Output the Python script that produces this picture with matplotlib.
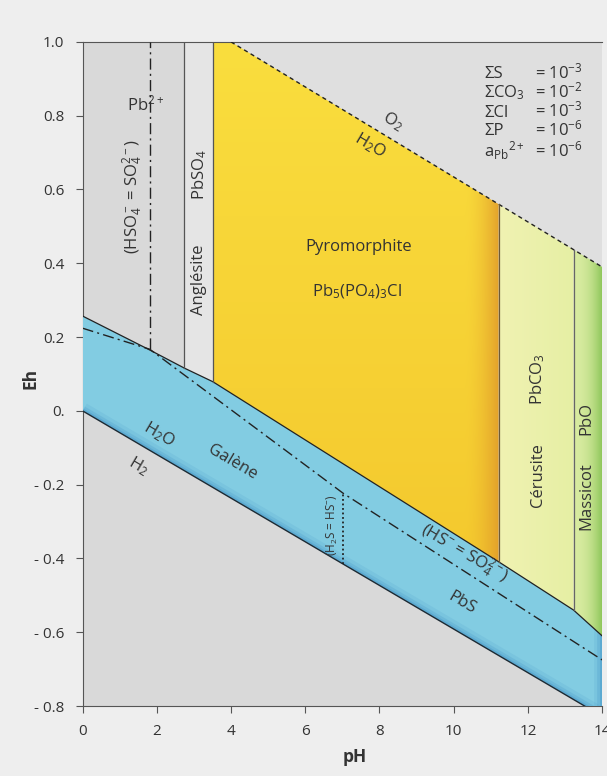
import numpy as np
import matplotlib
matplotlib.use('Agg')
import matplotlib.pyplot as plt
from matplotlib.patches import Polygon
from matplotlib.colors import to_rgb

plt.rcParams['font.family'] = ['Open Sans', 'DejaVu Sans']
plt.rcParams['mathtext.fontset'] = 'custom'
plt.rcParams['mathtext.rm'] = 'Open Sans'
plt.rcParams['mathtext.it'] = 'Open Sans:italic'
plt.rcParams['mathtext.bf'] = 'Open Sans:bold'

# ---------------- data ----------------
upper_ph = [0.0, 1.81, 2.74, 3.51, 11.21, 13.23, 14.0]       # upper limit of PbS (galena)
upper_eh = [0.257, 0.165, 0.116, 0.079, -0.409, -0.540, -0.610]
o2_ph = [4.0, 14.0]                                           # O2 / H2O
o2_eh = [1.0, 0.39]
h2_ph = [0.0, 14.0]                                           # H2O / H2
h2_eh = [0.0, -0.828]
sulf_ph = [0.0, 1.81, 7.03, 14.0]                             # sulfide / sulfate
sulf_eh = [0.224, 0.167, -0.224, -0.675]
hso4_ph = 1.81                                                # HSO4- = SO4 2-
h2s_ph = 7.03                                                 # H2S = HS-
bounds_ph = [2.74, 3.51, 11.21, 13.23]                        # Pb2+|Anglesite|Pyromorphite|Cerusite|Massicot
xticks = [0, 2, 4, 6, 8, 10, 12, 14]
yticks = [1.0, 0.8, 0.6, 0.4, 0.2, 0.0, -0.2, -0.4, -0.6, -0.8]
yticklabels = ['1.0', '0.8', '0.6', '0.4', '0.2', '0.', '- 0.2', '- 0.4', '- 0.6', '- 0.8']

legend_names = [r'ΣS', r'ΣCO$_3$', r'ΣCl', r'ΣP', r'a$_{\mathrm{Pb}}{}^{2+}$']
legend_values = [r'= 10$^{-3}$', r'= 10$^{-2}$', r'= 10$^{-3}$', r'= 10$^{-6}$', r'= 10$^{-6}$']


def up(p):
    return float(np.interp(p, upper_ph, upper_eh))


def top(p):
    return float(np.interp(p, o2_ph, o2_eh))


fig = plt.figure(figsize=(6.07, 7.76), dpi=100, facecolor='#eeeeee')
ax = fig.add_axes([0.136, 0.0902, 0.856, 0.8558])
ax.set_facecolor('#d9d9d9')
ax.set_xlim(0, 14)
ax.set_ylim(-0.8, 1.0)


def grad_fill(poly_pts, extent, func, z):
    patch = Polygon(poly_pts, closed=True, transform=ax.transData,
                    facecolor='none', edgecolor='none')
    ax.add_patch(patch)
    nx, ny = 240, 240
    t = np.linspace(0, 1, nx)[None, :]
    s = np.linspace(0, 1, ny)[:, None]
    img = func(t * np.ones((ny, 1)), s * np.ones((1, nx)))
    im = ax.imshow(img, extent=extent, origin='lower', aspect='auto',
                   zorder=z, interpolation='bilinear')
    im.set_clip_path(patch)
    return patch


def lerp(c1, c2, w):
    c1 = np.array(to_rgb(c1))
    c2 = np.array(to_rgb(c2))
    w = np.clip(w, 0, 1)[..., None]
    return c1 * (1 - w) + c2 * w


b1, b2, b3, b4 = bounds_ph

# region above O2 line (lighter grey)
ax.fill([o2_ph[0], 14, 14], [1.0, o2_eh[1], 1.0], color='#dfdfdf', zorder=1, lw=0)

# Anglesite strip
ax.fill([b1, b2, b2, b1], [up(b1), up(b2), 1.0, 1.0], color='#e5e5e5', zorder=1, lw=0)

# Pyromorphite (yellow gradient)
pyro = [(b2, up(b2)), (b3, up(b3)), (b3, top(b3)), (o2_ph[0], 1.0), (b2, 1.0)]


def yellow(t, s):
    c = lerp('#f4c92e', '#fade3e', s)
    w = np.clip((t - 0.88) / 0.12, 0, 1) ** 1.8
    c = c * (1 - w[..., None] * 0.85) + np.array(to_rgb('#e09a2a')) * (w[..., None] * 0.85)
    return c


grad_fill(pyro, [b2, b3, up(b3), 1.0], yellow, 2)

# Cerusite
ceru = [(b3, up(b3)), (b4, up(b4)), (b4, top(b4)), (b3, top(b3))]
grad_fill(ceru, [b3, b4, up(b4), top(b3)],
          lambda t, s: lerp('#f0f2b2', '#e6efa4', t), 2)

# Massicot
mass = [(b4, up(b4)), (14, up(14)), (14, top(14)), (b4, top(b4))]
grad_fill(mass, [b4, 14, up(14), top(b4)],
          lambda t, s: lerp('#d8eba0', '#88c455', t ** 2.2), 2)

# Galena (blue) with soft darker rim
blue_pts = list(zip(upper_ph, upper_eh)) + list(zip(h2_ph[::-1], h2_eh[::-1]))
blue = Polygon(blue_pts, closed=True, facecolor='#82cce2', edgecolor='none', zorder=3)
ax.add_patch(blue)
for lw, a in [(12, 0.12), (7, 0.2), (3.5, 0.3)]:
    sh, = ax.plot(h2_ph, h2_eh, color='#3a8cc4', lw=lw, alpha=a, zorder=3.5,
                  solid_capstyle='butt')
    sh.set_clip_path(blue)
    sh2, = ax.plot([14, 14], [-0.85, up(14)], color='#3a8cc4', lw=lw, alpha=a,
                   zorder=3.5)
    sh2.set_clip_path(blue)

# boundary lines
ax.plot(upper_ph, upper_eh, color='#222222', lw=0.9, zorder=5)
ax.plot(h2_ph, h2_eh, color='#1d2a33', lw=1.0, zorder=5)
ax.plot(o2_ph, o2_eh, color='#222222', lw=1.0, dashes=(3, 2.5), zorder=5)
for p, c in zip(bounds_ph, ['#555555', '#555555', '#6e5a36', '#666666']):
    ax.plot([p, p], [up(p), min(1.0, top(p))], color=c, lw=0.9, zorder=5)
ax.plot(sulf_ph, sulf_eh, color='#222222', lw=1.0, dashes=(8, 3, 1.5, 3), zorder=5)
ax.plot([hso4_ph, hso4_ph], [float(np.interp(hso4_ph, sulf_ph, sulf_eh)), 1.0],
        color='#222222', lw=1.0, dashes=(8, 3, 1.5, 3), zorder=5)
ax.plot([h2s_ph, h2s_ph], [float(np.interp(h2s_ph, h2_ph, h2_eh)),
                           float(np.interp(h2s_ph, sulf_ph, sulf_eh))],
        color='#222222', lw=1.3, ls=(0, (1, 1.5)), zorder=5)

# ---------------- texts ----------------
tc = '#333333'
fs = 12
ax.text(1.2, 0.83, r'Pb$^{2+}$', fontsize=fs, color=tc, ha='left', va='center', zorder=6)
ax.text(1.36, 0.58, r'(HSO$_4^-$ = SO$_4^{2-}$)', fontsize=fs, color=tc, rotation=90,
        ha='center', va='center', zorder=6)
ax.text(3.15, 0.64, r'PbSO$_4$', fontsize=fs, color=tc, rotation=90,
        ha='center', va='center', zorder=6)
ax.text(3.15, 0.355, 'Anglésite', fontsize=fs, color=tc, rotation=90,
        ha='center', va='center', zorder=6)
ax.text(7.45, 0.445, 'Pyromorphite', fontsize=fs, color=tc, ha='center', va='center', zorder=6)
ax.text(7.4, 0.323, r'Pb$_5$(PO$_4$)$_3$Cl', fontsize=fs, color=tc, ha='center',
        va='center', zorder=6)
ax.text(8.35, 0.785, r'O$_2$', fontsize=fs, color=tc, rotation=-30.5, ha='center',
        va='center', zorder=6)
ax.text(7.75, 0.72, r'H$_2$O', fontsize=fs, color=tc, rotation=-30.5, ha='center',
        va='center', zorder=6)
ax.text(2.05, -0.065, r'H$_2$O', fontsize=fs, color=tc, rotation=-30.5, ha='center',
        va='center', zorder=6)
ax.text(1.5, -0.15, r'H$_2$', fontsize=fs, color=tc, rotation=-30.5, ha='center',
        va='center', zorder=6)
ax.text(4.05, -0.14, 'Galène', fontsize=fs, color=tc, rotation=-30.5, ha='center',
        va='center', zorder=6)
ax.text(6.72, -0.31, r'(H$_2$S = HS$^{-}$)', fontsize=8.5, color=tc, rotation=90,
        ha='center', va='center', zorder=6)
ax.text(10.28, -0.385, r'(HS$^{-}$ = SO$_4^{2-}$)', fontsize=fs, color=tc, rotation=-30.5,
        ha='center', va='center', zorder=6)
ax.text(10.22, -0.52, 'PbS', fontsize=fs, color=tc, rotation=-30.5, ha='center',
        va='center', zorder=6)
ax.text(12.27, 0.085, r'PbCO$_3$', fontsize=fs, color=tc, rotation=90, ha='center',
        va='center', zorder=6)
ax.text(12.27, -0.175, 'Cérusite', fontsize=fs, color=tc, rotation=90, ha='center',
        va='center', zorder=6)
ax.text(13.58, -0.02, 'PbO', fontsize=fs, color=tc, rotation=90, ha='center',
        va='center', zorder=6)
ax.text(13.58, -0.23, 'Massicot', fontsize=fs, color=tc, rotation=90, ha='center',
        va='center', zorder=6)

leg_y = [0.902, 0.850, 0.797, 0.747, 0.690]
for name, val, y in zip(legend_names, legend_values, leg_y):
    ax.text(10.82, y, name, fontsize=12, color=tc, ha='left', va='baseline', zorder=6)
    ax.text(12.2, y, val, fontsize=12, color=tc, ha='left', va='baseline', zorder=6)

# ---------------- axes ----------------
ax.set_xticks(xticks)
ax.set_xticklabels([str(v) for v in xticks])
ax.set_yticks(yticks)
ax.set_yticklabels(yticklabels)
ax.tick_params(direction='out', length=5, width=0.8, color='#555555',
               labelsize=11, labelcolor='#333333', pad=8)
for side in ['left', 'bottom', 'top']:
    ax.spines[side].set_color('#555555')
    ax.spines[side].set_linewidth(0.8)
ax.spines['right'].set_visible(False)
ax.set_ylabel('Eh', fontsize=12.5, fontweight='bold', color='#333333')
ax.yaxis.set_label_coords(-0.082, 0.494)
ax.set_xlabel('pH', fontsize=12.5, fontweight='bold', color='#333333')
ax.xaxis.label.set_va('center')
ax.xaxis.set_label_coords(0.523, -0.077)

fig.savefig('out.png', dpi=100, facecolor=fig.get_facecolor())
